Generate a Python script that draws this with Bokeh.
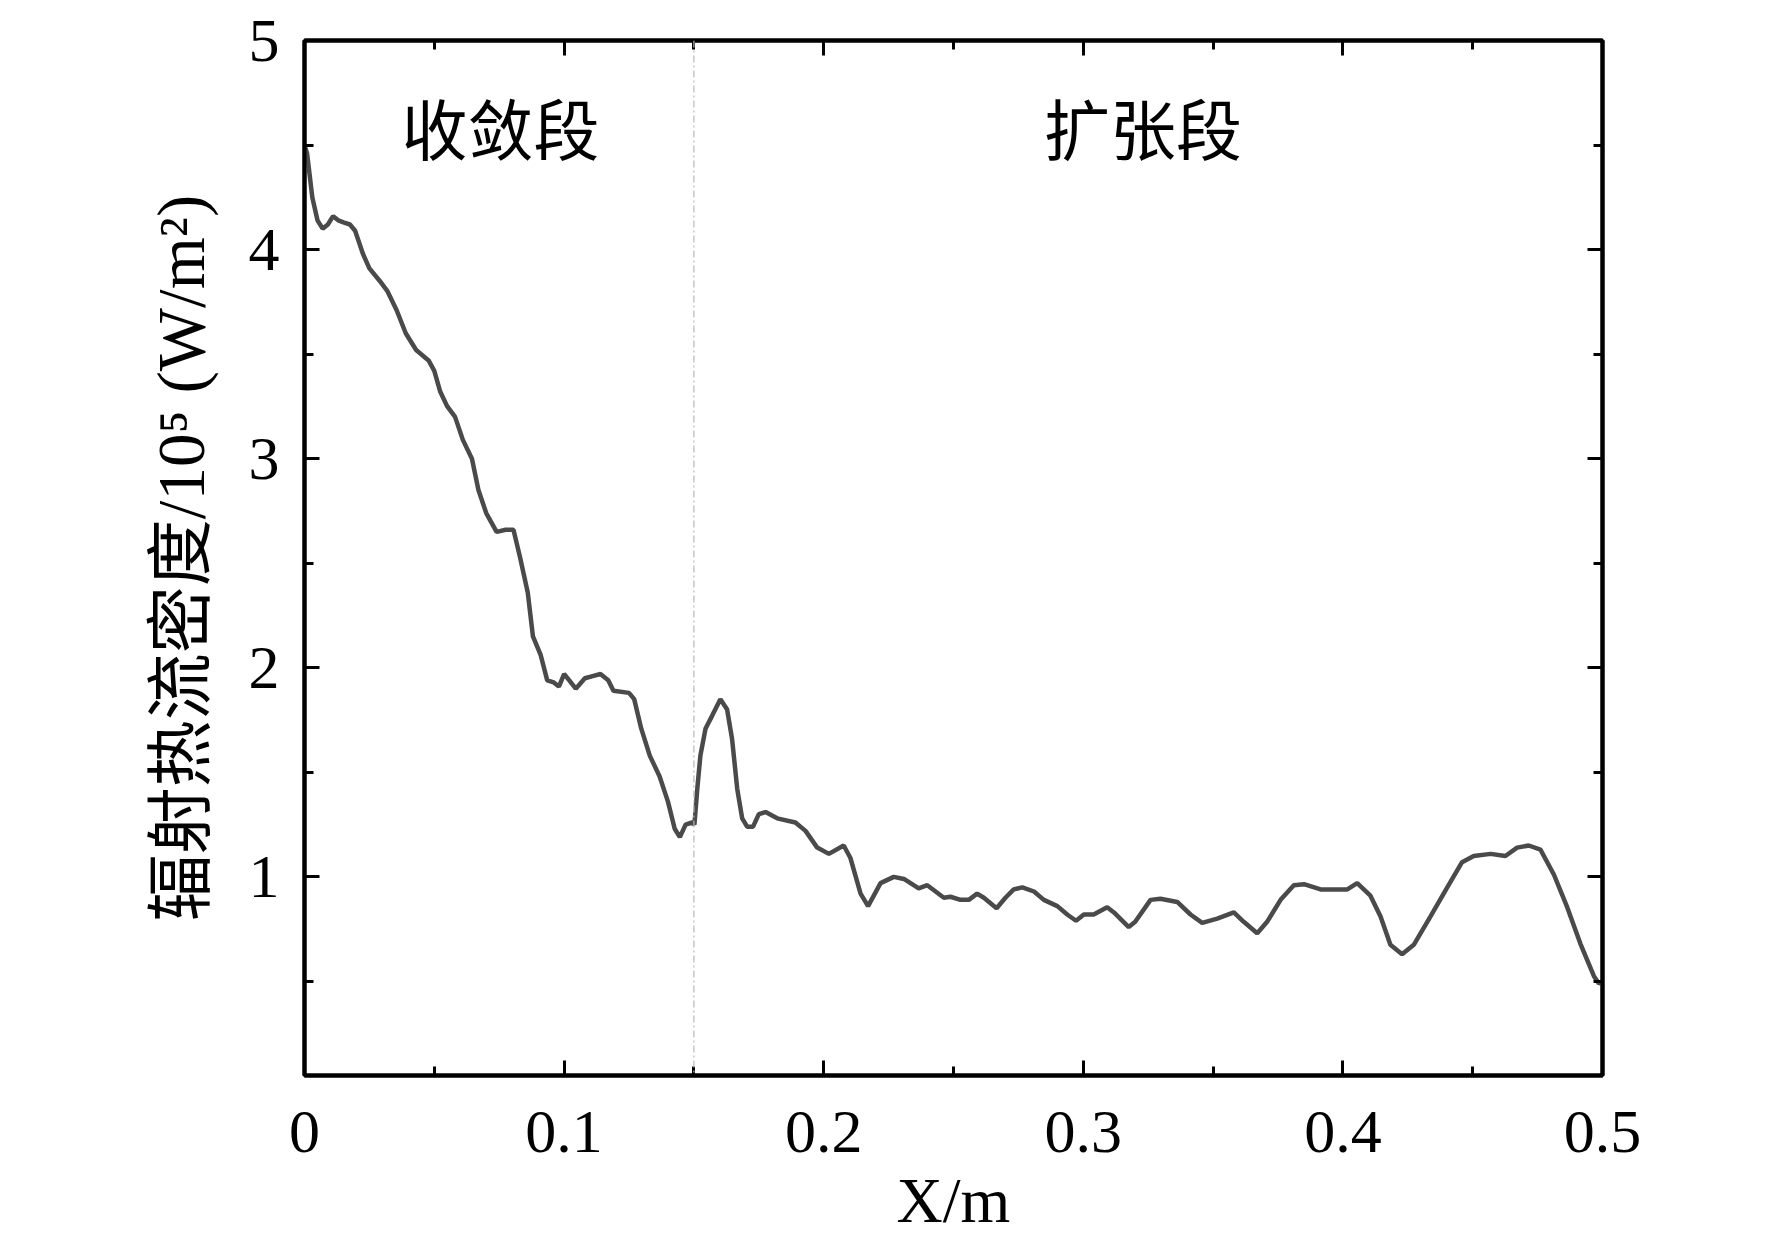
from bokeh.plotting import figure
from bokeh.models import (LinearAxis, SingleIntervalTicker, Span, Label,
                          CustomJSTickFormatter, Range1d)
from bokeh.embed import file_html
from bokeh.resources import INLINE

# ---- data ----
x_m = [0.000, 0.001, 0.003, 0.005, 0.007, 0.009, 0.011, 0.013, 0.015, 0.0175,
       0.0195, 0.0225, 0.025, 0.029, 0.032, 0.0355, 0.039, 0.043, 0.0478, 0.050,
       0.0523, 0.055, 0.058, 0.061, 0.0645, 0.067, 0.070, 0.074, 0.0775, 0.0805,
       0.083, 0.086, 0.088, 0.091, 0.0935, 0.096, 0.098, 0.100, 0.102, 0.1045,
       0.108, 0.111, 0.114, 0.117, 0.119, 0.125, 0.127, 0.1297, 0.133, 0.1368,
       0.140, 0.1426, 0.1446, 0.1468, 0.1493, 0.1502, 0.1513, 0.1525, 0.1545, 0.157,
       0.1602, 0.1628, 0.1647, 0.1667, 0.1686, 0.1705, 0.1728, 0.175, 0.1776, 0.1821,
       0.1891, 0.193, 0.1975, 0.202, 0.2077, 0.2103, 0.2142, 0.2171, 0.2219, 0.227,
       0.2309, 0.2366, 0.2399, 0.2463, 0.2488, 0.2527, 0.2559, 0.2591, 0.2617, 0.2666,
       0.270, 0.2732, 0.2765, 0.281, 0.2848, 0.290, 0.2938, 0.2972, 0.3002, 0.304,
       0.3092, 0.3118, 0.3175, 0.320, 0.3259, 0.3297, 0.3362, 0.3413, 0.3458, 0.3516,
       0.358, 0.3618, 0.367, 0.3708, 0.376, 0.3811, 0.385, 0.3914, 0.4017, 0.4055,
       0.4106, 0.4145, 0.4183, 0.4228, 0.4273, 0.4337, 0.4402, 0.4459, 0.4504, 0.4569,
       0.4626, 0.4671, 0.4716, 0.4761, 0.4813, 0.4864, 0.4915, 0.4967, 0.4986, 0.500]
flux = [4.50, 4.46, 4.25, 4.14, 4.10, 4.12, 4.16, 4.14, 4.13, 4.12,
        4.09, 3.98, 3.91, 3.85, 3.80, 3.71, 3.60, 3.52, 3.47, 3.42,
        3.32, 3.25, 3.20, 3.09, 3.00, 2.85, 2.74, 2.65, 2.66, 2.66,
        2.53, 2.36, 2.15, 2.06, 1.94, 1.93, 1.91, 1.97, 1.94, 1.90,
        1.95, 1.96, 1.97, 1.94, 1.89, 1.88, 1.85, 1.71, 1.58, 1.48,
        1.36, 1.23, 1.19, 1.25, 1.26, 1.25, 1.42, 1.58, 1.71, 1.77,
        1.85, 1.80, 1.66, 1.42, 1.28, 1.24, 1.24, 1.30, 1.31, 1.28,
        1.26, 1.22, 1.14, 1.11, 1.15, 1.09, 0.92, 0.86, 0.97, 1.00,
        0.99, 0.945, 0.96, 0.90, 0.905, 0.89, 0.89, 0.92, 0.90, 0.85,
        0.90, 0.94, 0.95, 0.93, 0.89, 0.86, 0.82, 0.79, 0.82, 0.82,
        0.855, 0.83, 0.76, 0.785, 0.89, 0.895, 0.88, 0.82, 0.78, 0.80,
        0.83, 0.785, 0.73, 0.785, 0.89, 0.96, 0.965, 0.94, 0.94, 0.97,
        0.91, 0.81, 0.675, 0.63, 0.675, 0.81, 0.95, 1.07, 1.10, 1.11,
        1.10, 1.14, 1.15, 1.13, 1.01, 0.855, 0.68, 0.525, 0.49, 0.50]
section_boundary = 0.15
section_names = ["收敛段", "扩张段"]
section_label_x = [0.0755, 0.323]
section_label_y = 4.59

SERIF = "Liberation Serif"
MIXED = "Liberation Serif, Noto Sans CJK SC"
CJK = "Noto Sans CJK SC"

p = figure(width=1756, height=1241, output_backend="svg", toolbar_location=None,
           x_range=Range1d(0, 0.5), y_range=Range1d(0.05, 5.0),
           min_border_left=304, min_border_right=154,
           min_border_top=40, min_border_bottom=166,
           x_axis_type=None, y_axis_type=None)
p.grid.visible = False
p.outline_line_color = "black"
p.outline_line_width = 4
p.background_fill_color = "white"
p.border_fill_color = "white"

xfmt = CustomJSTickFormatter(code="return tick.toFixed(1).replace(/\\.0$/, '');")
blank = CustomJSTickFormatter(code="return '';")


def style_axis(ax, show_labels):
    ax.axis_line_width = 4
    ax.axis_line_color = "black"
    ax.major_tick_in = 15
    ax.major_tick_out = 0
    ax.minor_tick_in = 9
    ax.minor_tick_out = 0
    ax.major_tick_line_width = 3
    ax.minor_tick_line_width = 3
    ax.major_tick_line_color = "black"
    ax.minor_tick_line_color = "black"
    ax.major_label_text_font = SERIF
    ax.major_label_text_font_size = "62px" if show_labels else "0px"
    ax.major_label_text_color = "black"


xb = LinearAxis(ticker=SingleIntervalTicker(interval=0.1, num_minor_ticks=2), formatter=xfmt)
style_axis(xb, True)
xb.major_label_standoff = 36
xb.axis_label = "X/m"
xb.axis_label_text_font = SERIF
xb.axis_label_text_font_size = "64px"
xb.axis_label_text_font_style = "normal"
xb.axis_label_text_color = "black"
xb.axis_label_standoff = 10
p.add_layout(xb, "below")

xt = LinearAxis(ticker=SingleIntervalTicker(interval=0.1, num_minor_ticks=2), formatter=blank)
style_axis(xt, False)
xt.major_label_standoff = 0
p.add_layout(xt, "above")

yl = LinearAxis(ticker=SingleIntervalTicker(interval=1, num_minor_ticks=2))
style_axis(yl, True)
yl.major_label_standoff = 25
yl.axis_label = "辐射热流密度/10⁵ (W/m²)"
yl.axis_label_text_font = MIXED
yl.axis_label_text_font_size = "67px"
yl.axis_label_text_font_style = "normal"
yl.axis_label_text_color = "black"
yl.axis_label_standoff = 28
p.add_layout(yl, "left")

yr = LinearAxis(ticker=SingleIntervalTicker(interval=1, num_minor_ticks=2), formatter=blank)
style_axis(yr, False)
yr.major_label_standoff = 0
p.add_layout(yr, "right")

# boundary between sections
p.add_layout(Span(location=section_boundary, dimension="height",
                  line_color="#b8b8b8", line_width=1.2, line_dash="7 3 2 3"))

# curve
p.line(x_m, flux, line_color="#4a4a4a", line_width=4.5)

# section labels
for name, sx in zip(section_names, section_label_x):
    p.add_layout(Label(x=sx, y=section_label_y, text=name, text_font=CJK,
                       text_font_size="66px", text_align="center",
                       text_baseline="middle", text_color="black"))

open("out.html", "w").write(file_html(p, INLINE))
